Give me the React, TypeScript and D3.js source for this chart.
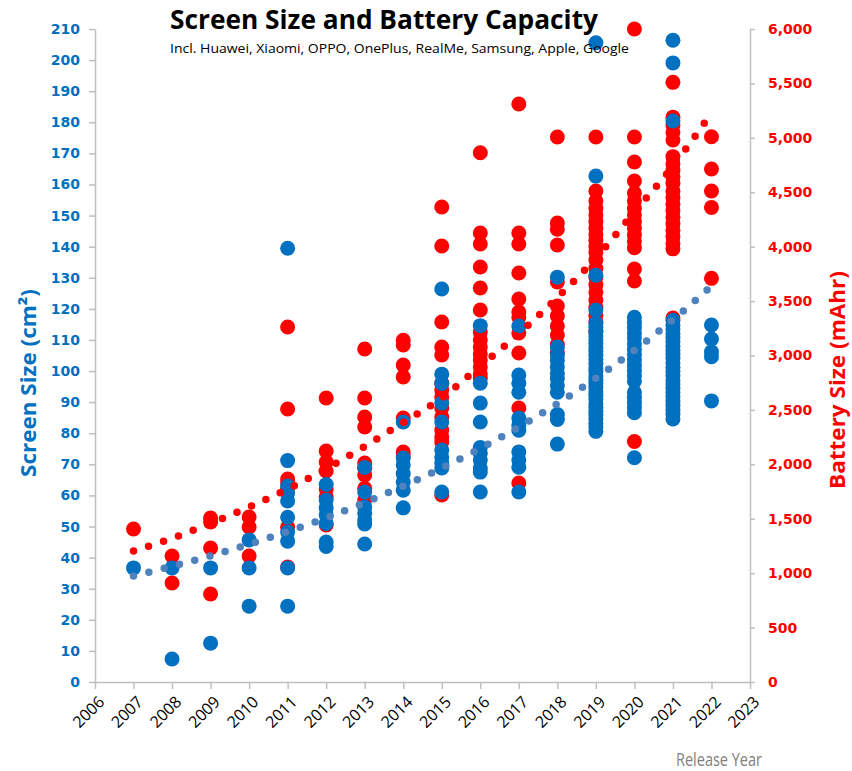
import * as d3 from 'd3';
import React, { useEffect, useRef } from 'react';

// release years, one column of points each
const years = [2007, 2008, 2009, 2010, 2011, 2012, 2013, 2014, 2015, 2016, 2017, 2018, 2019, 2020, 2021, 2022];

// screen size (cm2) per year
const screenSize: number[][] = [
  [36.7],
  [36.7, 7.4],
  [36.7, 12.5],
  [45.7, 36.7, 24.4],
  [139.5, 71.2, 63, 60.8, 58.2, 53, 48.2, 45.3, 36.7, 24.4],
  [63.5, 58.5, 56, 53.7, 51, 45, 43.6],
  [69, 61.1, 56.3, 54.3, 52.1, 50.8, 44.4],
  [83.6, 72, 69.8, 67, 64.3, 61.7, 56],
  [126.4, 99, 96, 89.7, 83.6, 74.6, 72.3, 70.4, 68.8, 61.1],
  [114.6, 96.1, 89.7, 83.6, 75.4, 73.6, 71.4, 68.8, 67.5, 61.1],
  [114.5, 98.7, 96.1, 93.2, 84.9, 82.6, 81, 74, 71.4, 69.1, 61.1],
  [130.2, 107.7, 105.2, 103.5, 101.4, 99.3, 97.6, 95.4, 93.2, 86, 84.4, 76.5],
  [205.6, 162.7, 130.8, 119.6, 115.4, 114, 112.6, 111.3, 110, 108.9, 107.5, 106.3, 105, 103.8, 102.5, 101, 99.8, 98.4,
    97.2, 96, 94.7, 93.3, 92.1, 91, 89.6, 88.3, 87.1, 85.9, 84.6, 83.2, 82, 80.6],
  [117.3, 115.6, 114, 112.2, 110.6, 108.7, 107, 105.4, 103.6, 101.8, 100.2, 98.5, 96.7, 93.2, 91.5, 89.9, 88.3, 86.6, 72.1],
  [206.4, 199.1, 180.4, 116.3, 114.8, 113.5, 112.1, 110.9, 109.4, 108, 106.7, 105.3, 104, 102.6, 101.2, 99.9, 98.5, 97,
    95.8, 94.4, 93, 91.7, 90.2, 88.9, 87.5, 86, 84.6],
  [114.8, 110.3, 106.2, 104.6, 90.4],
];

// battery capacity (mAhr) per year
const battery: number[][] = [
  [1406],
  [1158, 910],
  [1507, 1470, 1231, 808],
  [1516, 1424, 1158],
  [3262, 2508, 1865, 1828, 1780, 1424, 1057],
  [2609, 2122, 2021, 1939, 1773, 1700, 1442],
  [3060, 2610, 2435, 2343, 2012, 1966, 1902, 1780, 1672],
  [3140, 3096, 2912, 2802, 2425, 2113, 2077],
  [4364, 4006, 3308, 3078, 3004, 2747, 2683, 2619, 2517, 2435, 2315, 2251, 2205, 1718],
  [4863, 4125, 4024, 3813, 3620, 3418, 3216, 3142, 3078, 3014, 2959, 2894, 2830, 2793],
  [5311, 4125, 4024, 3758, 3519, 3400, 3350, 3207, 3023, 2517, 1828],
  [5008, 4217, 4160, 4015, 3675, 3455, 3364, 3270, 3188, 3100, 3030],
  [5008, 4511, 4420, 4350, 4290, 4230, 4170, 4110, 4060, 4000, 3950, 3880, 3800, 3720, 3650, 3580, 3510, 3440, 3370, 3310, 3220],
  [6000, 5008, 4778, 4603, 4493, 4420, 4350, 4290, 4230, 4170, 4110, 4050, 3990, 3795, 3684, 2210],
  [5510, 5190, 5118, 5050, 4980, 4827, 4760, 4700, 4640, 4580, 4510, 4450, 4390, 4330, 4270, 4210, 4150, 4090, 4030, 3980, 3344],
  [5010, 4713, 4511, 4361, 3709],
];

// dotted trend lines as drawn on the chart, one value per year
const screenTrend = [34.1, 37.2, 40.6, 44.3, 48.4, 52.8, 57.7, 63, 68.8, 75.1, 82, 89.5, 97.7, 106.7, 116.5, 127.3];
const batteryTrend = [1204, 1320, 1458, 1608, 1773, 1960, 2165, 2385, 2610, 2903, 3201, 3533, 3896, 4318, 4741, 5228];

const xTicks = [2006, 2007, 2008, 2009, 2010, 2011, 2012, 2013, 2014, 2015, 2016, 2017, 2018, 2019, 2020, 2021, 2022, 2023];
const leftTicks = [0, 10, 20, 30, 40, 50, 60, 70, 80, 90, 100, 110, 120, 130, 140, 150, 160, 170, 180, 190, 200, 210];
const rightTicks = [0, 500, 1000, 1500, 2000, 2500, 3000, 3500, 4000, 4500, 5000, 5500, 6000];

const BLUE = '#0070C0';
const RED = '#FF0000';
const TREND_BLUE = '#4F81BD';
const AXIS_GREY = '#BFBFBF';

const App = () => {
  const ref = useRef<SVGSVGElement | null>(null);

  useEffect(() => {
    document.body.style.margin = '0';
    const svg = d3.select(ref.current);
    svg.selectAll('*').remove();

    const x = d3.scaleLinear().domain([2006, 2023]).range([95, 750]);
    const yL = d3.scaleLinear().domain([0, 210]).range([682, 29]);
    const yR = d3.scaleLinear().domain([0, 6000]).range([682, 29]);

    const styleAxis = (g) => {
      g.select('.domain').attr('stroke', AXIS_GREY).attr('stroke-width', 1.5);
      g.selectAll('.tick line').attr('stroke', AXIS_GREY).attr('stroke-width', 1.5);
    };

    // left axis
    const gl = svg.append('g')
      .attr('transform', 'translate(95,0)')
      .call(d3.axisLeft(yL).tickValues(leftTicks).tickSize(6).tickSizeOuter(0).tickPadding(9));
    styleAxis(gl);
    gl.selectAll('.tick text')
      .attr('fill', BLUE)
      .style('font-family', '"DejaVu Sans", sans-serif')
      .style('font-weight', 'bold')
      .style('font-size', '14px');

    // right axis
    const gr = svg.append('g')
      .attr('transform', 'translate(750,0)')
      .call(d3.axisRight(yR).tickValues(rightTicks).tickSize(5).tickSizeOuter(0).tickPadding(13).tickFormat(d3.format(',')));
    styleAxis(gr);
    gr.selectAll('.tick text')
      .attr('fill', RED)
      .style('font-family', '"DejaVu Sans", sans-serif')
      .style('font-weight', 'bold')
      .style('font-size', '14px');

    // bottom axis with slanted year labels
    const gb = svg.append('g')
      .attr('transform', 'translate(0,682)')
      .call(d3.axisBottom(x).tickValues(xTicks).tickSize(7).tickSizeOuter(0).tickFormat(d => String(d)));
    styleAxis(gb);
    gb.selectAll('.tick text')
      .attr('x', 0)
      .attr('y', 0)
      .attr('dy', '0.35em')
      .attr('text-anchor', 'end')
      .attr('transform', 'translate(6,17) rotate(-45)')
      .attr('fill', '#000')
      .style('font-family', '"Open Sans", sans-serif')
      .style('font-size', '16px');

    // battery points (red) underneath
    const redPts = years.flatMap((yr, i) => battery[i].map(v => [yr, v]));
    svg.append('g').selectAll('circle')
      .data(redPts)
      .join('circle')
      .attr('cx', d => x(d[0]))
      .attr('cy', d => yR(d[1]))
      .attr('r', 7.5)
      .attr('fill', RED);

    // screen size points (blue) on top
    const bluePts = years.flatMap((yr, i) => screenSize[i].map(v => [yr, v]));
    svg.append('g').selectAll('circle')
      .data(bluePts)
      .join('circle')
      .attr('cx', d => x(d[0]))
      .attr('cy', d => yL(d[1]))
      .attr('r', 7.5)
      .attr('fill', BLUE);

    // dotted trend lines
    const drawTrend = (vals, yScale, color) => {
      svg.append('path')
        .datum(vals.map((v, i) => [years[i], v]))
        .attr('fill', 'none')
        .attr('stroke', color)
        .attr('stroke-width', 7.5)
        .attr('stroke-linecap', 'round')
        .attr('stroke-dasharray', '0 15.8')
        .attr('d', d3.line().curve(d3.curveMonotoneX).x(d => x(d[0])).y(d => yScale(d[1])));
    };
    drawTrend(batteryTrend, yR, RED);
    drawTrend(screenTrend, yL, TREND_BLUE);

    // titles
    svg.append('text')
      .attr('x', 170).attr('y', 29)
      .attr('textLength', 428).attr('lengthAdjust', 'spacingAndGlyphs')
      .style('font-family', '"Open Sans", sans-serif')
      .style('font-weight', 'bold').style('font-size', '27px')
      .text('Screen Size and Battery Capacity');
    svg.append('text')
      .attr('x', 170).attr('y', 53)
      .attr('textLength', 459).attr('lengthAdjust', 'spacingAndGlyphs')
      .style('font-family', '"Open Sans", sans-serif')
      .style('font-size', '13px')
      .text('Incl. Huawei, Xiaomi, OPPO, OnePlus, RealMe, Samsung, Apple, Google');

    svg.append('text')
      .attr('transform', 'translate(36,383) rotate(-90)')
      .attr('text-anchor', 'middle')
      .attr('textLength', 188).attr('lengthAdjust', 'spacingAndGlyphs')
      .attr('fill', BLUE)
      .style('font-family', '"Open Sans", sans-serif')
      .style('font-weight', 'bold').style('font-size', '21px')
      .text('Screen Size (cm²)');

    svg.append('text')
      .attr('transform', 'translate(845,380) rotate(-90)')
      .attr('text-anchor', 'middle')
      .attr('textLength', 218).attr('lengthAdjust', 'spacingAndGlyphs')
      .attr('fill', RED)
      .style('font-family', '"Open Sans", sans-serif')
      .style('font-weight', 'bold').style('font-size', '21px')
      .text('Battery Size (mAhr)');

    svg.append('text')
      .attr('x', 762).attr('y', 766)
      .attr('text-anchor', 'end')
      .attr('textLength', 86).attr('lengthAdjust', 'spacingAndGlyphs')
      .attr('fill', '#7F7F7F')
      .style('font-family', '"Open Sans", sans-serif')
      .style('font-size', '18px')
      .text('Release Year');
  }, []);

  return (
    <svg ref={ref} width={852} height={771} style={{ display: 'block', background: '#fff' }} />
  );
};

export default App;
